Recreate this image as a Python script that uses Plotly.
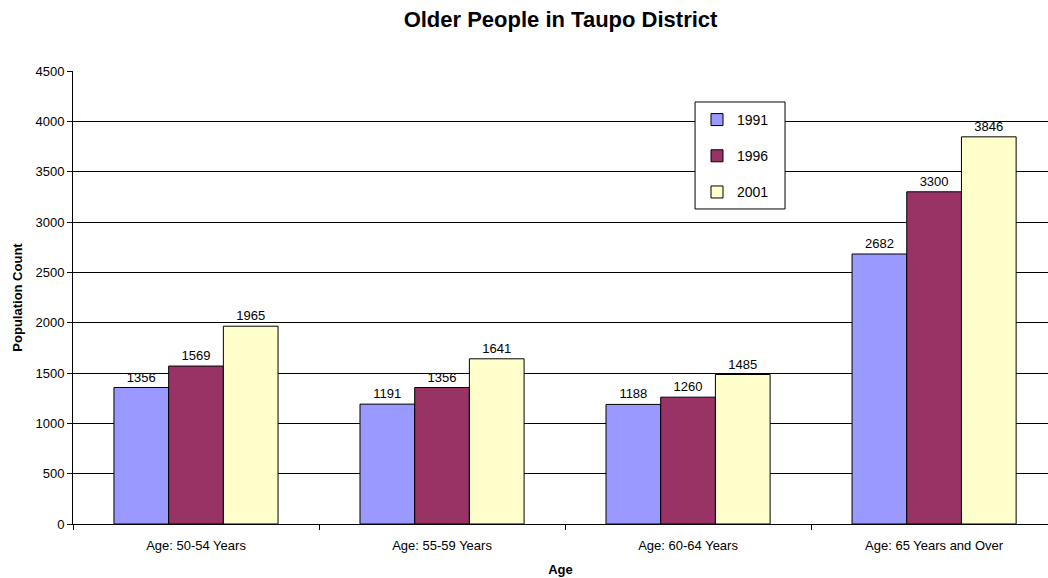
import plotly.graph_objects as go

categories = ["Age: 50-54 Years", "Age: 55-59 Years", "Age: 60-64 Years", "Age: 65 Years and Over"]
years = ["1991", "1996", "2001"]
v1991 = [1356, 1191, 1188, 2682]
v1996 = [1569, 1356, 1260, 3300]
v2001 = [1965, 1641, 1485, 3846]
series = [v1991, v1996, v2001]
colors = ["#9999FF", "#993366", "#FFFFCC"]
yticks = [0, 500, 1000, 1500, 2000, 2500, 3000, 3500, 4000, 4500]

fig = go.Figure()
for name, vals, col in zip(years, series, colors):
    fig.add_trace(go.Bar(
        x=categories, y=vals, name=name, legendgroup=name,
        marker=dict(color=col, line=dict(color="black", width=1)),
        text=[str(v) for v in vals], textposition="outside",
        textfont=dict(size=13, color="black"), cliponaxis=False,
    ))

# legend frame (plot-area fractions)
fig.add_shape(type="rect", xref="paper", yref="paper",
              x0=0.638, x1=0.7303, y0=0.6954, y1=0.9316,
              fillcolor="white", line=dict(color="black", width=1), layer="above")

fig.update_layout(
    width=1048, height=578,
    font=dict(family="Liberation Sans, Arial", size=13, color="black"),
    paper_bgcolor="white", plot_bgcolor="white",
    margin=dict(l=73, r=0, t=71, b=54, autoexpand=False),
    barmode="group", bargap=0.333, bargroupgap=0,
    title=dict(text="<b>Older People in Taupo District</b>", x=0.5, xanchor="center",
               xref="paper", y=1 - 19 / 578, yanchor="middle", font=dict(size=22)),
    legend=dict(x=0.64, y=0.9272, xanchor="left", yanchor="top",
                borderwidth=0, bgcolor="rgba(0,0,0,0)",
                font=dict(size=14), tracegroupgap=15, traceorder="grouped",
                itemwidth=30),
    showlegend=True,
)
fig.update_xaxes(range=[-0.5, 3.463], showline=True, linecolor="black", linewidth=1,
                 ticks="outside", tickson="boundaries", ticklen=5, tickcolor="black",
                 ticklabelstandoff=9,
                 title=dict(text="<b>Age</b>", font=dict(size=13), standoff=13),
                 tickfont=dict(size=13), automargin=False)
fig.update_yaxes(range=[0, 4500], tickvals=yticks, showline=True, linecolor="black",
                 linewidth=1, ticks="outside", ticklen=5, tickcolor="black",
                 showgrid=True, gridcolor="black", gridwidth=1,
                 title=dict(text="<b>Population Count</b>", font=dict(size=13), standoff=9),
                 tickfont=dict(size=13), zeroline=False, automargin=False)

fig.write_html("out.html", config={"displayModeBar": False},
               post_script="document.body.style.margin='0';document.body.style.overflow='hidden';")
